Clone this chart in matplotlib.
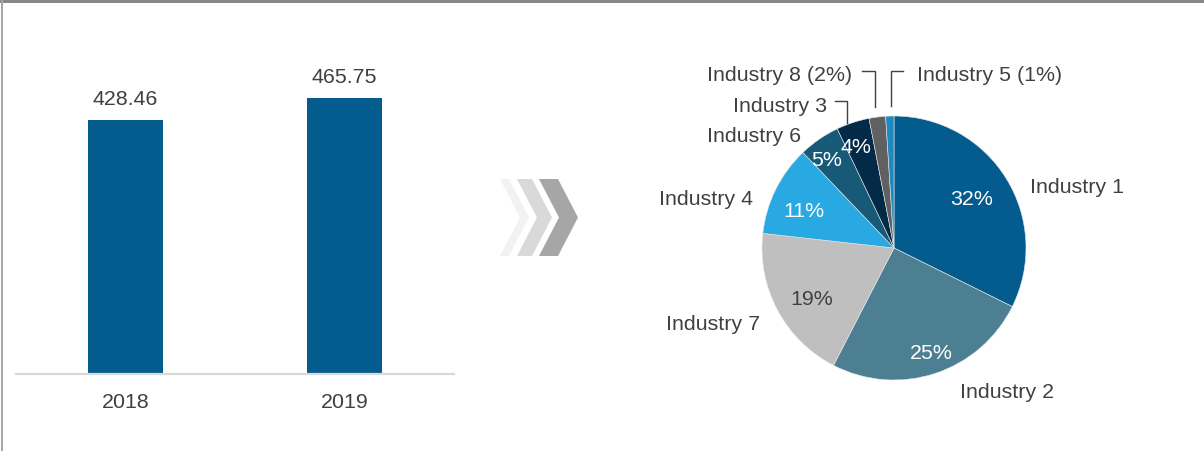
import matplotlib.pyplot as plt
import numpy as np
from matplotlib.patches import Rectangle, Polygon

plt.rcParams['font.family'] = ['Liberation Sans', 'DejaVu Sans']
TXT = '#404040'
FS = 15.4

# bar data
years = ['2018', '2019']
totals = [428.46, 465.75]

# pie data (clockwise from 12 o'clock)
industries = ['Industry 1', 'Industry 2', 'Industry 7', 'Industry 4',
              'Industry 6', 'Industry 3', 'Industry 8', 'Industry 5']
shares = [32, 25, 19, 11, 5, 4, 2, 1]
pie_colors = ['#035b8e', '#4d7f93', '#bfbfbf', '#29a9e1',
              '#175a78', '#032b48', '#606060', '#1e88c0']

W, H = 1204, 452
fig = plt.figure(figsize=(W / 100, H / 100), dpi=100)

# frame: grey band on top, thin line on the left
fig.add_artist(Rectangle((0, 1 - 4 / H), 1, 4 / H, transform=fig.transFigure,
                         color='#878787', lw=0))
fig.add_artist(Rectangle((1 / W, 0), 2 / W, 1, transform=fig.transFigure,
                         color='#a6a6a6', lw=0))

# ---- bar chart ----
ax = fig.add_axes([16 / W, 77 / H, 438 / W, 356 / H])
x = np.arange(len(years))
bars = ax.bar(x, totals, width=0.342, color='#035b8e')
ax.bar_label(bars, labels=['%.2f' % v for v in totals], padding=8.5,
             fontsize=FS, color=TXT)
ax.set_xlim(-0.5, 1.5)
ax.set_ylim(0, 600)
ax.set_xticks(x, years)
ax.tick_params(axis='x', length=0, pad=13, labelsize=FS, labelcolor=TXT)
ax.set_yticks([])
for s in ['top', 'right', 'left']:
    ax.spines[s].set_visible(False)
ax.spines['bottom'].set_color('#d9d9d9')
ax.spines['bottom'].set_linewidth(1.6)
ax.patch.set_visible(False)

# ---- chevrons ----
cax = fig.add_axes([0, 0, 1, 1])
cax.set_xlim(0, W)
cax.set_ylim(H, 0)
cax.axis('off')
top, bot = 180, 257
mid = (top + bot) / 2
for x0, w, c in [(500, 9, '#f2f2f2'), (517, 15, '#d9d9d9'), (539, 19, '#a6a6a6')]:
    d = 20
    cax.add_patch(Polygon([(x0, top), (x0 + w, top), (x0 + w + d, mid),
                           (x0 + w, bot), (x0, bot), (x0 + d, mid)],
                          closed=True, color=c, lw=0))

# ---- pie chart ----
cx, cy, R = 894, 249, 132
S = 400
pax = fig.add_axes([(cx - S / 2) / W, (H - cy - S / 2) / H, S / W, S / H])
wedges, _ = pax.pie(shares, colors=pie_colors, startangle=90, counterclock=False,
                    radius=1, wedgeprops=dict(linewidth=0.4, edgecolor='#e8e8e8'))
lim = S / 2 / R
pax.set_xlim(-lim, lim)
pax.set_ylim(-lim, lim)
pax.set_aspect('equal')
pax.axis('off')

dy = 3 / R  # small downward nudge for text

# percentage labels inside the wedges
pct_r = [0.71, 0.82, 0.72, 0.75, 0.86, 0.84]
pct_c = ['white', 'white', TXT, 'white', 'white', 'white']
for wdg, r, c, v in zip(wedges, pct_r, pct_c, shares):
    a = np.deg2rad((wdg.theta1 + wdg.theta2) / 2 + 2)
    pax.text(r * np.cos(a), r * np.sin(a) - dy, '%d%%' % v, ha='center',
             va='center', fontsize=FS, color=c)


def px(p, q):
    return (p - cx) / R, (cy - q) / R


# category labels around the pie
name_pos = [(1030, 185, 'left'), (960, 390, 'left'), (760, 322, 'right'),
            (753, 197, 'right'), (801, 134, 'right'), (827, 104, 'right'),
            (852, 73, 'right'), (917, 73, 'left')]
for i, (name, (p, q, ha)) in enumerate(zip(industries, name_pos)):
    txt = name if i < 6 else '%s (%d%%)' % (name, shares[i])
    tx, ty = px(p, q)
    pax.text(tx, ty - dy, txt, ha=ha, va='center', fontsize=FS, color=TXT)

# leader lines for the small slices
for pts in [[(835, 102), (847, 102), (847, 124)],
            [(862, 72), (875, 72), (875, 108)],
            [(903, 72), (891, 72), (891, 107)]]:
    xs, ys = zip(*[px(p, q) for p, q in pts])
    pax.plot(xs, ys, color=TXT, lw=1, solid_joinstyle='miter')

fig.savefig('out.png', dpi=100)
